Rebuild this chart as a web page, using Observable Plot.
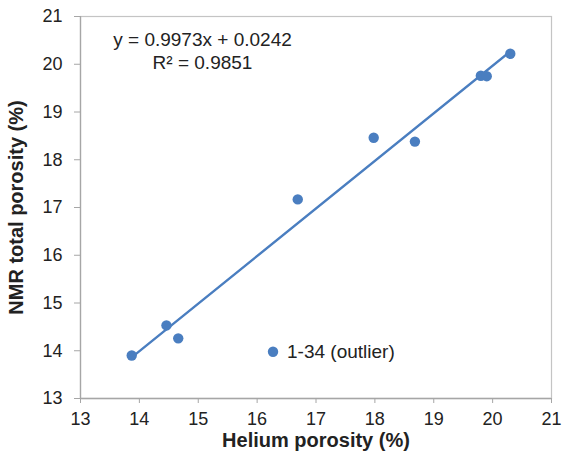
<!DOCTYPE html>
<html>
<head>
<meta charset="utf-8">
<script src="https://cdn.jsdelivr.net/npm/d3@7"></script>
<script src="https://cdn.jsdelivr.net/npm/@observablehq/plot@0.6"></script>
<style>
  html, body { margin: 0; padding: 0; background: #fff; }
  svg { font-family: "Liberation Sans", Arial, sans-serif; }
</style>
</head>
<body>
<div id="chart"></div>
<script>
// Helium porosity (%) vs NMR total porosity (%)
const heliumPorosity = [13.87, 14.46, 14.66, 16.69, 17.98, 18.68, 19.80, 19.90, 20.30];
const nmrPorosity    = [13.90, 14.53, 14.26, 17.17, 18.46, 18.38, 19.76, 19.75, 20.22];

// Outlier sample
const outlierName = ["1-34 (outlier)"];
const outlierHelium = [16.27];
const outlierNmr = [13.98];

// Trend line endpoints as drawn
const trendX = [13.87, 20.30];
const trendY = [13.86, 20.27];

const equationText = "y = 0.9973x + 0.0242\nR² = 0.9851";

const xTicks = [13, 14, 15, 16, 17, 18, 19, 20, 21];
const yTicks = [13, 14, 15, 16, 17, 18, 19, 20, 21];
const xLabel = "Helium porosity (%)";
const yLabel = "NMR total porosity (%)";

const points = heliumPorosity.map((h, i) => ({x: h, y: nmrPorosity[i]}));
const outliers = outlierName.map((n, i) => ({name: n, x: outlierHelium[i], y: outlierNmr[i]}));
const trend = trendX.map((x, i) => ({x, y: trendY[i]}));

const blue = "#4a7ec0";

const chart = Plot.plot({
  width: 562,
  height: 458,
  marginLeft: 80,
  marginRight: 11,
  marginTop: 16,
  marginBottom: 60,
  x: {domain: [13, 21]},
  y: {domain: [13, 21]},
  marks: [
    Plot.frame({stroke: "#c4c4c4", strokeWidth: 1.2}),
    Plot.ruleX([13], {stroke: "#a6a6a6", strokeWidth: 1.3}),
    Plot.ruleY([13], {stroke: "#a6a6a6", strokeWidth: 1.3}),
    Plot.axisX({ticks: xTicks, tickSize: 5, tickPadding: 9, stroke: "#a6a6a6", fill: "#222", fontSize: 18, label: null, tickFormat: d => String(d)}),
    Plot.axisY({ticks: yTicks, tickSize: 6, tickPadding: 12, stroke: "#a6a6a6", fill: "#222", fontSize: 18, label: null, tickFormat: d => String(d)}),
    Plot.line(trend, {x: "x", y: "y", stroke: blue, strokeWidth: 2.4}),
    Plot.dot(points, {x: "x", y: "y", r: 5.2, fill: blue, stroke: "none"}),
    Plot.dot(outliers, {x: "x", y: "y", r: 5.2, fill: blue, stroke: "none"}),
    Plot.text(outliers, {x: "x", y: "y", text: "name", dx: 14, textAnchor: "start", fontSize: 19, fill: "#222"}),
    Plot.text([equationText], {frameAnchor: "top-left", dx: 122, dy: 34, textAnchor: "middle", lineAnchor: "middle", lineHeight: 1.2, fontSize: 19, fill: "#222"}),
    Plot.text([xLabel], {frameAnchor: "bottom", dy: 48, textAnchor: "middle", fontSize: 20, fontWeight: "bold", fill: "#222"}),
    Plot.text([yLabel], {frameAnchor: "left", dx: -64, rotate: -90, textAnchor: "middle", fontSize: 20, fontWeight: "bold", fill: "#222"})
  ]
});
document.getElementById("chart").appendChild(chart);
</script>
</body>
</html>
